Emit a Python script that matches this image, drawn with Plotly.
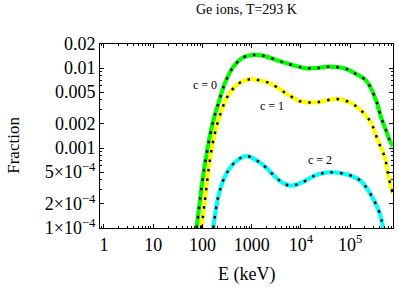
import plotly.graph_objects as go

# Energies (keV) and fractions
e_c0 = [76, 89, 102, 132, 166, 209, 282, 417, 676, 1150, 1700, 4370, 12000, 20400,
        38000, 83200, 132000, 214000, 339000, 427000, 537000, 631000, 741000]
f_c0 = [1.0e-4, 2.19e-4, 4.27e-4, 1.12e-3, 2.19e-3, 3.55e-3, 6.31e-3, 1.02e-2, 1.36e-2,
        1.46e-2, 1.43e-2, 1.18e-2, 1.00e-2, 1.00e-2, 1.04e-2, 9.75e-3, 8.43e-3, 6.92e-3,
        3.89e-3, 2.40e-3, 1.66e-3, 1.26e-3, 1.05e-3]

e_c1 = [95.5, 112, 141, 178, 245, 331, 525, 912, 1349, 2344, 5129, 9550, 20417, 52481,
        97724, 154882, 251189, 288403, 363078, 501187, 588844, 691831, 741310]
f_c1 = [1.0e-4, 2.19e-4, 6.92e-4, 1.51e-3, 2.95e-3, 4.52e-3, 6.31e-3, 7.24e-3, 7.08e-3,
        6.46e-3, 4.79e-3, 3.85e-3, 3.73e-3, 4.11e-3, 3.73e-3, 3.08e-3, 2.20e-3, 1.86e-3,
        1.26e-3, 7.76e-4, 4.79e-4, 3.02e-4, 2.75e-4]

e_c2 = [166, 209, 282, 457, 776, 1445, 1862, 3715, 5888, 10233, 20417, 38019, 97724,
        169824, 288403, 398107, 467735]
f_c2 = [1.0e-4, 2.43e-4, 4.32e-4, 6.64e-4, 7.94e-4, 6.64e-4, 5.85e-4, 3.91e-4, 3.39e-4,
        3.69e-4, 4.60e-4, 4.98e-4, 4.57e-4, 3.80e-4, 2.36e-4, 1.53e-4, 1.0e-4]

x_tickvals = [1, 10, 100, 1000, 1e4, 1e5]
x_ticktext = ["1", "10", "100", "1000", "10<sup>4</sup>", "10<sup>5</sup>"]
y_tickvals = [0.02, 0.01, 0.005, 0.002, 0.001, 5e-4, 2e-4, 1e-4]
y_ticktext = ["0.02", "0.01", "0.005", "0.002", "0.001",
              "5×10<sup>−4</sup>", "2×10<sup>−4</sup>", "1×10<sup>−4</sup>"]

series = [(e_c0, f_c0, "#00ff00"), (e_c1, f_c1, "#ffff00"), (e_c2, f_c2, "#00ffff")]

FONT = "Liberation Serif"
fig = go.Figure()
for ex, fy, col in series:
    fig.add_trace(go.Scatter(x=ex, y=fy, mode="lines",
                             line=dict(color=col, width=4.2, shape="spline", smoothing=1),
                             showlegend=False, hoverinfo="skip"))
    fig.add_trace(go.Scatter(x=ex, y=fy, mode="lines",
                             line=dict(color="black", width=2.5, shape="spline", smoothing=1,
                                       dash="2.5px,7px"),
                             showlegend=False, hoverinfo="skip"))

labels = [("c = 0", 2.05, -2.21), ("c = 1", 3.41, -2.474), ("c = 2", 4.38, -3.149)]
for txt, lx, ly in labels:
    fig.add_annotation(x=lx, y=ly, text=txt, showarrow=False,
                       font=dict(family=FONT, size=12, color="black"))

# title and axis titles
fig.add_annotation(xref="paper", yref="paper", x=0.5, y=1.185, text="Ge ions, T=293 K",
                   showarrow=False, xanchor="center", yanchor="middle",
                   font=dict(family=FONT, size=14, color="black"))
fig.add_annotation(xref="paper", yref="paper", x=0.5, y=-0.255, text="E (keV)",
                   showarrow=False, xanchor="center", yanchor="middle",
                   font=dict(family=FONT, size=18, color="black"))
fig.add_annotation(xref="paper", yref="paper", x=-0.295, y=0.45, text="Fraction",
                   showarrow=False, xanchor="center", yanchor="middle", textangle=-90,
                   font=dict(family=FONT, size=17, color="black"))

axis_common = dict(showline=True, linecolor="black", linewidth=1, mirror="allticks",
                   ticks="inside", ticklen=4, tickcolor="black", showgrid=False,
                   zeroline=False, tickfont=dict(family=FONT, size=18, color="black"))

fig.update_xaxes(type="log", range=[-0.08, 5.87], tickmode="array",
                 tickvals=x_tickvals, ticktext=x_ticktext,
                 minor=dict(dtick="D1", ticks="inside", ticklen=2, tickcolor="black"),
                 **axis_common)
fig.update_yaxes(type="log", range=[-4, -1.69897], tickmode="array",
                 tickvals=y_tickvals, ticktext=y_ticktext,
                 minor=dict(dtick="D1", ticks="inside", ticklen=2, tickcolor="black"),
                 **axis_common)

fig.update_layout(
    width=399, height=287,
    margin=dict(l=100, r=6, t=44, b=59),
    paper_bgcolor="white", plot_bgcolor="white",
)

fig.write_html("out.html", config={"displayModeBar": False},
               post_script="document.body.style.margin='0';")
